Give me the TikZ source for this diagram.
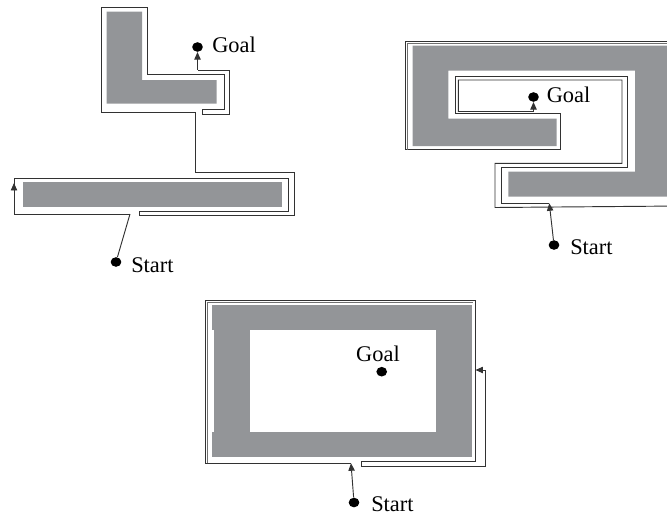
\documentclass[tikz,border=0pt]{standalone}
\usepackage{fontspec}
\setmainfont{Liberation Serif}
\usetikzlibrary{arrows.meta,shapes.geometric}
\definecolor{obst}{RGB}{147,149,152}
\definecolor{pathc}{RGB}{50,50,50}
\begin{document}
\begin{tikzpicture}[x=0.75pt,y=-0.75pt,
  obstacle/.style={fill=obst,draw=none},
  route/.style={draw=pathc,line width=0.7pt,line join=miter},
  faint/.style={draw=pathc!70,line width=0.5pt},
  dot/.style={ellipse,fill=black,minimum width=8pt,minimum height=7.2pt,inner sep=0pt},
  lbl/.style={anchor=west,inner sep=0pt,font=\fontsize{16.8}{18}\selectfont},
  tip/.style={-{Triangle[length=5.6pt,width=4.8pt]}}]
\useasboundingbox (0,0) rectangle (667,515);
\clip (0,0) rectangle (667,515);

% ---------- panel 1 ----------
\fill[obstacle] (106.7,11.7) -- (142,11.7) -- (142,80) -- (216.5,80) -- (216.5,103.5) -- (106.7,103.5) -- cycle;
\fill[obstacle] (22.7,182) rectangle (281.7,207);
\node[dot] (s1) at (116,262) {};
\node[lbl] (s1t) at (131,265) {Start};
\node[dot] (g1) at (197.5,47) {};
\node[lbl] (g1t) at (212,45) {Goal};
\coordinate (h1) at (130,214);
\draw[route] (s1) -- (h1);
\draw[route] (h1) -- (14,214) -- (14,178) -- (288,178) -- (288,211.7) -- (139.5,211.7) -- (139.5,215.7)
  -- (294,215.7) -- (294,172) -- (195,172) -- (195,112) -- (101,112) -- (101,7.3) -- (147.3,7.3)
  -- (147.3,74.5) -- (224,74.5) -- (224,109) -- (202,109) -- (202,114) -- (229.5,114) -- (229.5,70)
  -- (197.5,70) coordinate (l1);
\draw[route,tip] (l1) -- (g1);
\coordinate (a1s) at (14,197);
\coordinate (a1e) at (14,183);
\draw[route,tip] (a1s) -- (a1e);

% ---------- panel 2 ----------
\fill[obstacle] (412.5,45.5) -- (680,45.5) -- (680,196.7) -- (508.3,196.7) -- (508.3,171.7) -- (635,171.7)
  -- (635,70.7) -- (448.3,70.7) -- (448.3,118.5) -- (556.5,118.5) -- (556.5,146) -- (412.5,146) -- cycle;
\node[dot] (s2) at (554,245) {};
\node[lbl] (s2t) at (570,247) {Start};
\node[dot] (g2) at (533.5,97) {};
\node[lbl] (g2t) at (546.5,95) {Goal};
\coordinate (h2) at (549.3,203.3);
\draw[route] (h2) -- (501.7,203.3) -- (501.7,167.7) -- (627,167.7) -- (627,76.7) -- (455,76.7) -- (455,113.3)
  -- (560.7,113.3) -- (560.7,149.5) -- (405,149.5) -- (405,41) -- (680,41);
\draw[faint] (407.7,149.5) -- (407.7,43.5) -- (680,43.5);
\draw[route] (680,206) -- (495,207.5) -- (495,163.3) -- (622,163.3) -- (622,80) -- (458.3,80) -- (458.3,111.5)
  -- (533.5,111.5) coordinate (l2);
\draw[route,tip] (s2) -- (h2);
\draw[route,tip] (l2) -- (g2);

% ---------- panel 3 ----------
\fill[obstacle] (212.3,305) rectangle (471.7,330);
\fill[obstacle] (212.3,431.7) rectangle (471.7,456.7);
\fill[obstacle] (214,329) rectangle (249.5,432.7);
\fill[obstacle] (436,329) rectangle (471.7,432.7);
\node[dot] (s3) at (354,502.5) {};
\node[lbl] (s3t) at (371,504) {Start};
\node[dot] (g3) at (381.7,371.7) {};
\node[lbl,anchor=center] (g3t) at (378,354) {Goal};
\coordinate (h3) at (351,463.3);
\draw[route] (h3) -- (205,463.3) -- (205,300) -- (475,300) -- (475,461.7) -- (361.7,461.7) -- (361.7,466.7)
  -- (485,466.7) -- (485,370) coordinate (l3);
\draw[faint] (207.7,463.3) -- (207.7,302.2) -- (473,302.2);
\coordinate (w3) at (475.5,370);
\draw[route,tip] (l3) -- (w3);
\draw[route,tip] (s3) -- (h3);
\end{tikzpicture}
\end{document}
